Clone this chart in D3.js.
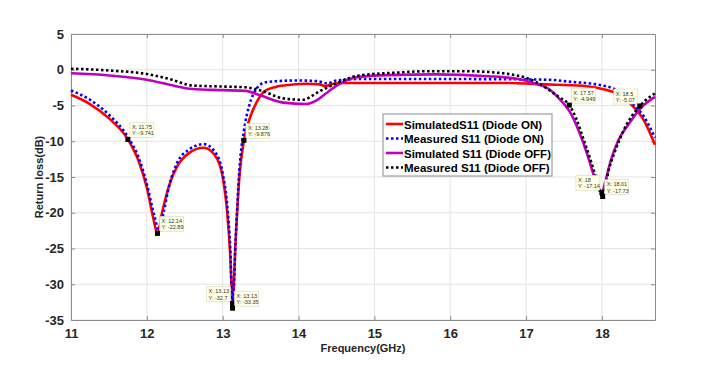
<!DOCTYPE html>
<html>
<head>
<meta charset="utf-8">
<script src="https://cdn.jsdelivr.net/npm/d3@7"></script>
<style>
  body { margin: 0; background: #fff; }
  svg { font-family: "Liberation Sans", Arial, sans-serif; }
</style>
</head>
<body>
<svg id="chart"></svg>
<script>
// series values: [frequency GHz, dB]
const simOn = [[11,-3.5],[11.25,-4.8],[11.5,-6.8],[11.75,-9.741],[11.9,-13],[12,-16.5],[12.08,-20.5],[12.14,-22.89],
  [12.2,-20],[12.3,-16],[12.4,-13.5],[12.55,-11.7],[12.75,-10.9],[12.9,-12],[13,-15],[13.06,-20],[13.1,-26],[13.13,-32.7],
  [13.17,-24],[13.22,-15],[13.28,-9.876],[13.35,-7],[13.45,-4.5],[13.55,-3],[13.7,-2.4],[13.9,-2.1],[14.1,-1.95],
  [14.28,-2.05],[14.35,-2.3],[14.45,-2.0],[14.6,-1.85],[15,-1.85],[16,-1.85],[16.8,-1.85],[17.1,-2.0],[17.4,-2.1],
  [17.8,-2.3],[18.05,-2.8],[18.2,-3.3],[18.3,-4.0],[18.4,-5.0],[18.55,-7.0],[18.7,-10.5]];
const measOn = [[11,-2.9],[11.25,-4.2],[11.5,-6.3],[11.75,-9.4],[11.9,-12.5],[12,-16],[12.1,-20.5],[12.16,-22.6],
  [12.22,-20],[12.3,-16],[12.4,-13],[12.55,-11.2],[12.75,-10.4],[12.9,-11.5],[13,-14.5],[13.06,-19],[13.1,-25],[13.13,-33.35],
  [13.17,-24],[13.22,-14],[13.28,-8.5],[13.35,-5],[13.45,-2.6],[13.55,-1.8],[13.7,-1.6],[14,-1.5],[14.25,-1.6],
  [14.38,-1.9],[14.5,-1.5],[14.8,-1.3],[16,-1.3],[17,-1.35],[17.3,-1.4],[17.6,-1.7],[17.9,-2.0],[18.18,-2.8],
  [18.3,-3.8],[18.42,-4.9],[18.55,-6.5],[18.7,-9.5]];
const simOff = [[11,-0.5],[11.5,-0.8],[12,-1.4],[12.3,-2.1],[12.6,-2.7],[13,-2.85],[13.3,-2.95],[13.5,-3.6],
  [13.8,-4.6],[14.1,-4.8],[14.25,-4.2],[14.4,-3.0],[14.55,-1.9],[14.8,-1.0],[15.2,-0.75],[15.8,-0.65],[16.5,-0.9],
  [16.9,-1.3],[17.1,-1.9],[17.3,-2.7],[17.45,-4.2],[17.6,-6.3],[17.74,-9.8],[17.83,-12.6],[17.9,-15],[18,-17.14],
  [18.05,-15.4],[18.12,-12.6],[18.22,-9.8],[18.36,-7.5],[18.49,-5.6],[18.7,-3.8]];
const measOff = [[11,0.15],[11.5,-0.1],[12,-0.6],[12.3,-1.3],[12.6,-2.2],[13,-2.35],[13.3,-2.45],[13.5,-2.9],
  [13.8,-4.0],[14.05,-4.2],[14.28,-3.0],[14.54,-1.7],[14.8,-0.8],[15.3,-0.4],[15.7,-0.2],[16.2,-0.2],[16.7,-0.5],
  [17.13,-1.7],[17.43,-3.8],[17.57,-4.949],[17.66,-6.8],[17.76,-9.8],[17.85,-12.6],[17.92,-15],[18.01,-17.73],
  [18.09,-14],[18.18,-11.2],[18.29,-8.4],[18.5,-5.07],[18.7,-3.3]];

const seriesNames = ['SimulatedS11 (Diode ON)', 'Measured S11 (Diode ON)', 'Simulated S11 (Diode OFF)', 'Measured S11 (Diode OFF)'];
const xTicks = [11, 12, 13, 14, 15, 16, 17, 18];
const yTicks = [5, 0, -5, -10, -15, -20, -25, -30, -35];

// data tips shown on the figure
const tipX = [11.75, 12.14, 13.28, 13.13, 13.13, 17.57, 18.5, 18, 18.01];
const tipY = [-9.741, -22.89, -9.876, -32.7, -33.35, -4.949, -5.07, -17.14, -17.73];
const tipSide = ['r', 'r', 'r', 'l', 'r', 'r', 'l', 'l', 'r'];

const W = 701, H = 369;
const margin = {top: 34, right: 46, bottom: 49, left: 71};
const w = W - margin.left - margin.right;
const h = H - margin.top - margin.bottom;

const svg = d3.select('#chart').attr('width', W).attr('height', H);
const g = svg.append('g').attr('transform', `translate(${margin.left},${margin.top})`);

const x = d3.scaleLinear().domain([11, 18.7]).range([0, w]);
const y = d3.scaleLinear().domain([-35, 5]).range([h, 0]);

// grid
g.append('g').selectAll('line').data(xTicks).join('line')
  .attr('x1', d => x(d)).attr('x2', d => x(d)).attr('y1', 0).attr('y2', h)
  .attr('stroke', '#e3e3e3').attr('stroke-width', 1);
g.append('g').selectAll('line').data(yTicks).join('line')
  .attr('x1', 0).attr('x2', w).attr('y1', d => y(d)).attr('y2', d => y(d))
  .attr('stroke', '#e3e3e3').attr('stroke-width', 1);

// axes
const axisColor = '#262626';
const fmt = d => String(d);
g.append('g').attr('transform', `translate(0,${h})`)
  .call(d3.axisBottom(x).tickValues(xTicks).tickFormat(fmt).tickSizeInner(-4).tickSizeOuter(0).tickPadding(9));
g.append('g')
  .call(d3.axisLeft(y).tickValues(yTicks).tickFormat(fmt).tickSizeInner(-4).tickSizeOuter(0).tickPadding(7));
g.append('g').call(d3.axisTop(x).tickValues(xTicks).tickSizeInner(-4).tickSizeOuter(0).tickFormat(''));
g.append('g').attr('transform', `translate(${w},0)`)
  .call(d3.axisRight(y).tickValues(yTicks).tickSizeInner(-4).tickSizeOuter(0).tickFormat(''));
g.selectAll('.domain').attr('stroke', '#8c8c8c');
g.selectAll('.tick line').attr('stroke', '#8c8c8c');
g.selectAll('.tick text').attr('fill', axisColor).style('font-size', '13px').style('font-weight', 'bold');

svg.append('text').attr('x', margin.left + w / 2).attr('y', 352)
  .attr('text-anchor', 'middle').attr('fill', axisColor)
  .style('font-size', '11px').style('font-weight', 'bold').text('Frequency(GHz)');
svg.append('text').attr('transform', `translate(43,${margin.top + h / 2}) rotate(-90)`)
  .attr('text-anchor', 'middle').attr('fill', axisColor)
  .style('font-size', '11px').style('font-weight', 'bold').text('Return loss(dB)');

// curves
const line = d3.line().x(d => x(d[0])).y(d => y(d[1])).curve(d3.curveMonotoneX);
const styles = [
  {data: simOn, color: '#ff0000', dash: null},
  {data: measOn, color: '#0000ff', dash: '2.5,2.5'},
  {data: simOff, color: '#bf00bf', dash: null},
  {data: measOff, color: '#000000', dash: '2.5,2.5'}
];
g.selectAll('path.curve').data(styles).join('path')
  .attr('class', 'curve')
  .attr('d', d => line(d.data))
  .attr('fill', 'none')
  .attr('stroke', d => d.color)
  .attr('stroke-width', 2.6)
  .attr('stroke-dasharray', d => d.dash);

// data tips
const tips = g.append('g');
tipX.forEach((tx, i) => {
  const px = x(tx), py = y(tipY[i]);
  const bw = 24, bh = 15;
  const bx = tipSide[i] === 'r' ? px + 2 : px - bw - 2;
  const by = py - bh - 2;
  tips.append('rect').attr('x', bx).attr('y', by).attr('width', bw).attr('height', bh)
    .attr('fill', '#ffffe6').attr('stroke', '#d8d8c0').attr('stroke-width', 0.6);
  tips.append('text').attr('x', bx + 2).attr('y', by + 6.5)
    .style('font-size', '5.5px').attr('fill', '#333').text('X: ' + tx);
  tips.append('text').attr('x', bx + 2).attr('y', by + 13)
    .style('font-size', '5.5px').attr('fill', '#333').text('Y: ' + tipY[i]);
  tips.append('rect').attr('x', px - 2.5).attr('y', py - 2.5).attr('width', 5).attr('height', 5)
    .attr('fill', '#000');
});

// legend
const lg = svg.append('g').attr('transform', 'translate(383,114)');
lg.append('rect').attr('width', 169).attr('height', 62)
  .attr('fill', '#fff').attr('stroke', '#8c8c8c').attr('stroke-width', 1);
styles.forEach((s, i) => {
  const ly = 10 + i * 14.5;
  lg.append('line').attr('x1', 3).attr('x2', 20).attr('y1', ly).attr('y2', ly)
    .attr('stroke', s.color).attr('stroke-width', 2.6).attr('stroke-dasharray', s.dash);
  lg.append('text').attr('x', 21).attr('y', ly + 4.5)
    .style('font-size', '11.5px').style('font-weight', 'bold').attr('fill', '#000')
    .text(seriesNames[i]);
});
</script>
</body>
</html>
